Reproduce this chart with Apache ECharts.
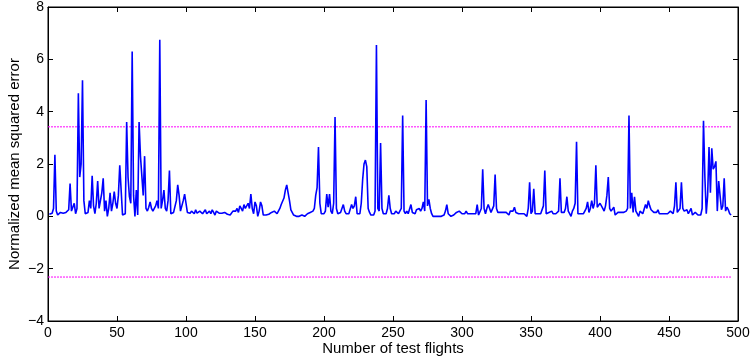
<!DOCTYPE html>
<html>
<head>
<meta charset="utf-8">
<script src="https://cdn.jsdelivr.net/npm/echarts@6/dist/echarts.min.js"></script>
<style>html,body{margin:0;padding:0;background:#fff}#c{width:751px;height:360px}</style>
</head>
<body>
<div id="c"></div>
<script>
// Normalized mean squared error per test flight (flights 1..495)
const nmse = [
0.08,0.1,0.12,0.3,2.35,0.2,0.05,0.1,0.15,0.1,
0.12,0.18,0.15,0.2,0.25,1.25,0.2,0.15,0.5,0.1,
0.3,4.7,1.5,2.0,5.2,0.6,0.1,0.05,0.15,0.6,
0.3,1.55,0.4,0.1,0.5,1.35,0.3,0.6,0.9,1.45,
0.2,0.6,0.0,0.3,0.9,0.2,0.5,0.95,0.5,0.3,
0.8,1.95,1.0,0.05,0.0,0.1,3.6,1.5,0.75,0.5,
6.3,0.8,0.0,1.0,0.05,3.6,2.3,2.25,0.8,2.3,
0.3,0.2,0.35,0.55,0.3,0.2,0.25,0.4,0.6,0.3,
6.75,0.3,0.6,1.0,0.3,0.2,0.6,1.75,0.1,0.1,
0.15,0.2,0.6,1.2,0.8,0.2,0.25,0.6,0.85,0.5,
0.15,0.1,0.12,0.2,0.15,0.1,0.25,0.12,0.1,0.2,
0.15,0.1,0.12,0.25,0.1,0.15,0.2,0.1,0.25,0.15,
0.05,0.2,0.15,0.12,0.1,0.12,0.1,0.15,0.1,0.08,
0.05,0.05,0.1,0.2,0.25,0.2,0.3,0.15,0.4,0.3,
0.2,0.45,0.3,0.35,0.5,0.3,0.85,0.3,0.1,0.55,
0.4,0.0,0.2,0.55,0.4,0.05,0.0,0.05,0.1,0.08,
0.1,0.15,0.1,0.2,0.15,0.1,0.05,0.3,0.45,0.5,
0.7,1.0,1.2,0.9,0.6,0.25,0.2,0.05,0.0,0.0,
0.0,0.0,0.0,0.05,0.0,0.0,0.05,0.1,0.12,0.15,
0.15,0.2,0.3,0.8,1.1,2.65,0.5,0.1,0.05,0.1,
0.2,0.85,0.35,0.85,0.2,0.1,0.5,3.8,0.3,0.1,
0.05,0.15,0.2,0.45,0.2,0.1,0.05,0.1,0.15,0.45,
0.3,0.4,0.75,0.1,0.05,0.1,0.5,1.4,2.0,2.15,
1.9,0.3,0.15,0.05,0.1,0.05,0.2,6.55,0.3,0.2,
2.8,0.3,0.1,0.08,0.1,0.3,0.8,0.3,0.1,0.15,
0.1,0.2,0.15,0.1,0.05,0.3,3.85,0.2,0.1,0.2,
0.1,0.15,0.45,0.15,0.2,0.1,0.25,0.2,0.3,0.2,
0.3,0.55,0.2,4.45,0.4,0.65,0.3,0.1,0.0,0.0,
0.0,0.0,0.0,0.0,0.0,0.0,0.05,0.2,0.45,0.1,
0.05,0.0,0.0,0.05,0.1,0.15,0.1,0.2,0.15,0.1,
0.15,0.1,0.2,0.1,0.05,0.1,0.15,0.1,0.05,0.1,
0.45,0.05,0.1,0.3,1.8,0.3,0.1,0.3,0.45,0.3,
0.15,0.1,0.4,1.6,0.3,0.15,0.2,0.15,0.1,0.15,
0.1,0.15,0.1,0.05,0.2,0.15,0.2,0.35,0.15,0.1,
0.1,0.05,0.1,0.15,0.1,0.05,0.0,0.3,1.3,0.1,
0.2,1.05,0.1,0.05,0.1,0.15,0.1,0.05,0.4,1.75,
0.1,0.05,0.15,0.1,0.2,0.1,0.05,0.1,0.15,0.2,
1.45,0.15,0.2,0.15,0.3,0.75,0.2,0.1,0.0,0.2,
0.3,0.5,2.85,0.1,0.15,0.1,0.05,0.1,0.2,0.3,
0.55,0.15,0.3,0.6,0.3,0.5,1.95,0.35,0.4,0.5,
0.5,0.3,0.2,0.4,0.8,1.5,0.3,0.2,0.15,0.35,
0.05,0.1,0.15,0.1,0.15,0.2,0.15,0.2,0.2,0.3,
3.85,0.3,0.9,0.15,0.75,0.2,0.1,0.0,0.2,0.15,
0.1,0.15,0.45,0.3,0.6,0.4,0.25,0.3,0.15,0.1,
0.15,0.25,0.1,0.05,0.1,0.05,0.1,0.05,0.1,0.15,
0.2,0.15,0.1,0.4,1.3,0.15,0.1,0.3,1.3,0.3,
0.2,0.15,0.25,0.1,0.2,0.3,0.05,0.1,0.15,0.1,
0.05,0.1,0.05,0.3,3.65,1.5,0.1,0.8,2.65,0.9,
2.6,1.8,1.9,2.1,0.2,1.35,1.35,0.25,0.4,1.45,
0.2,0.35,0.25,0.1,0.05
];
const upperLimit = 3.42;
const lowerLimit = -2.32;
const xTicks = [0, 50, 100, 150, 200, 250, 300, 350, 400, 450, 500];
const yTicks = [-4, -2, 0, 2, 4, 6, 8];

const flights = nmse.map((_, i) => i + 1);
const lineData = nmse.map((v, i) => [flights[i], v]);
const lastFlight = flights[flights.length - 1];

const font = 'Liberation Sans, Arial, Helvetica, sans-serif';
const fmt = v => String(v).replace('-', '\u2212');
const mkLine = () => ({ show: true, onZero: false, lineStyle: { color: '#000', width: 1 } });
const mkTick = () => ({ show: true, inside: true, length: 5, lineStyle: { color: '#000', width: 1 } });

const chart = echarts.init(document.getElementById('c'), null, { renderer: 'canvas' });
chart.setOption({
  animation: false,
  backgroundColor: '#fff',
  grid: { left: 48, right: 13, top: 7, bottom: 39, containLabel: false, outerBoundsMode: 'none',
          show: true, borderColor: '#000', borderWidth: 1, backgroundColor: 'transparent' },
  xAxis: [
    { type: 'value', position: 'bottom', min: xTicks[0], max: xTicks[xTicks.length - 1], interval: 50,
      name: 'Number of test flights', nameLocation: 'middle', nameGap: 20, nameMoveOverlap: false,
      nameTextStyle: { color: '#000', fontSize: 15, fontFamily: font },
      axisLine: mkLine(), axisTick: mkTick(), splitLine: { show: false },
      axisLabel: { color: '#000', fontSize: 14, fontFamily: font, margin: 5, formatter: fmt } },
    { type: 'value', position: 'top', min: xTicks[0], max: xTicks[xTicks.length - 1], interval: 50,
      axisLine: mkLine(), axisTick: mkTick(), splitLine: { show: false }, axisLabel: { show: false } }
  ],
  yAxis: [
    { type: 'value', position: 'left', min: yTicks[0], max: yTicks[yTicks.length - 1], interval: 2,
      name: 'Normalized mean squared error', nameLocation: 'middle', nameGap: 26, nameRotate: 90,
      nameMoveOverlap: false,
      nameTextStyle: { color: '#000', fontSize: 15, fontFamily: font },
      axisLine: mkLine(), axisTick: mkTick(), splitLine: { show: false },
      axisLabel: { color: '#000', fontSize: 14, fontFamily: font, margin: 4, formatter: fmt } },
    { type: 'value', position: 'right', min: yTicks[0], max: yTicks[yTicks.length - 1], interval: 2,
      axisLine: mkLine(), axisTick: mkTick(), splitLine: { show: false }, axisLabel: { show: false } }
  ],
  series: [
    { type: 'line', data: [[0, upperLimit], [lastFlight, upperLimit]], symbol: 'none',
      lineStyle: { color: '#ff00ff', width: 1, type: [2, 1] }, silent: true },
    { type: 'line', data: [[0, lowerLimit], [lastFlight, lowerLimit]], symbol: 'none',
      lineStyle: { color: '#ff00ff', width: 1, type: [2, 1] }, silent: true },
    { type: 'line', data: lineData, symbol: 'none',
      lineStyle: { color: '#0000ff', width: 1.6 } }
  ]
});
</script>
</body>
</html>
